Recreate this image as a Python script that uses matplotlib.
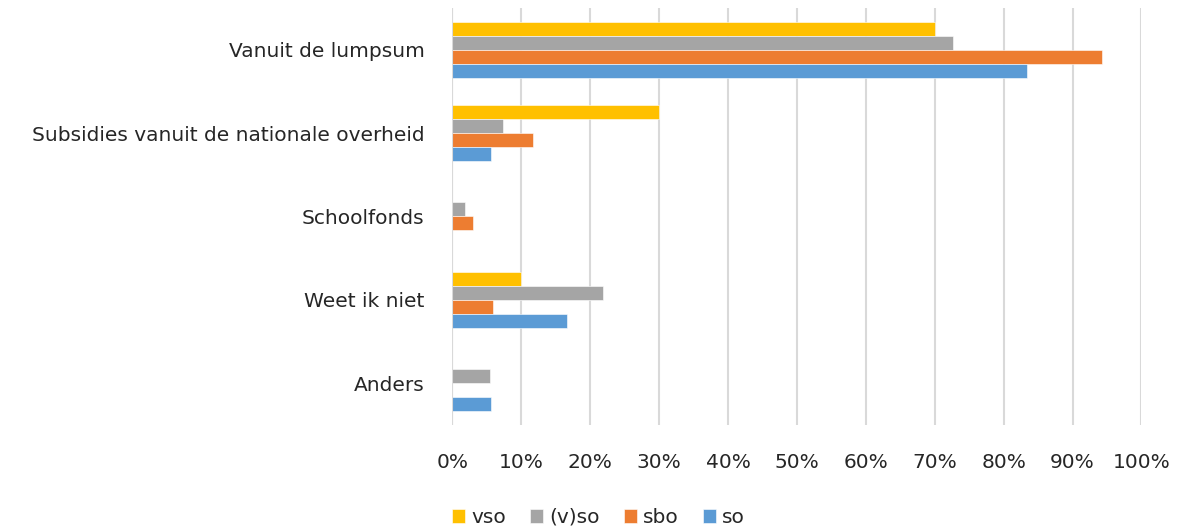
import matplotlib.pyplot as plt
import numpy as np

categories = ['Vanuit de lumpsum', 'Subsidies vanuit de nationale overheid',
              'Schoolfonds', 'Weet ik niet', 'Anders']
series = ['vso', '(v)so', 'sbo', 'so']
vso = [70.0, 30.0, 0.0, 10.0, 0.0]
vso_so = [72.6, 7.4, 1.8, 21.9, 5.4]
sbo = [94.2, 11.7, 3.0, 5.9, 0.0]
so = [83.4, 5.6, 0.0, 16.6, 5.6]
colors = ['#FFC000', '#A5A5A5', '#ED7D31', '#5B9BD5']

plt.rcParams['font.family'] = ['DejaVu Sans']
fig = plt.figure(figsize=(11.78, 5.28), dpi=100)
ax = fig.add_axes([0.384, 0.195, 0.585, 0.79])

y = np.arange(len(categories))
h = 0.168
for k, (vals, name) in enumerate(zip([vso, vso_so, sbo, so], series)):
    ax.barh(y + (k - 1.5) * h, vals, height=h, color=colors[k], label=name,
            edgecolor='white', linewidth=0.4, zorder=3)

ax.set_xlim(0, 100)
ax.set_ylim(len(categories) - 0.5, -0.5)
ax.set_xticks(np.arange(0, 101, 10))
ax.set_xticklabels([f'{v}%' for v in range(0, 101, 10)])
ax.set_yticks(y)
ax.set_yticklabels(categories)
ax.tick_params(axis='both', length=0, labelsize=14.5, labelcolor='#262626')
ax.tick_params(axis='x', pad=20)
ax.tick_params(axis='y', pad=20)
ax.grid(axis='x', color='#D9D9D9', linewidth=1.5, zorder=0)
ax.axvline(0, color='#D9D9D9', linewidth=1.5, zorder=4)
for s in ax.spines.values():
    s.set_visible(False)

fig.legend(loc='center', bbox_to_anchor=(0.508, 0.02), ncol=4, frameon=False,
           fontsize=14.5, handlelength=0.65, handleheight=0.65, handletextpad=0.3,
           columnspacing=1.2, labelcolor='#262626')

fig.savefig('out.png', dpi=100)
